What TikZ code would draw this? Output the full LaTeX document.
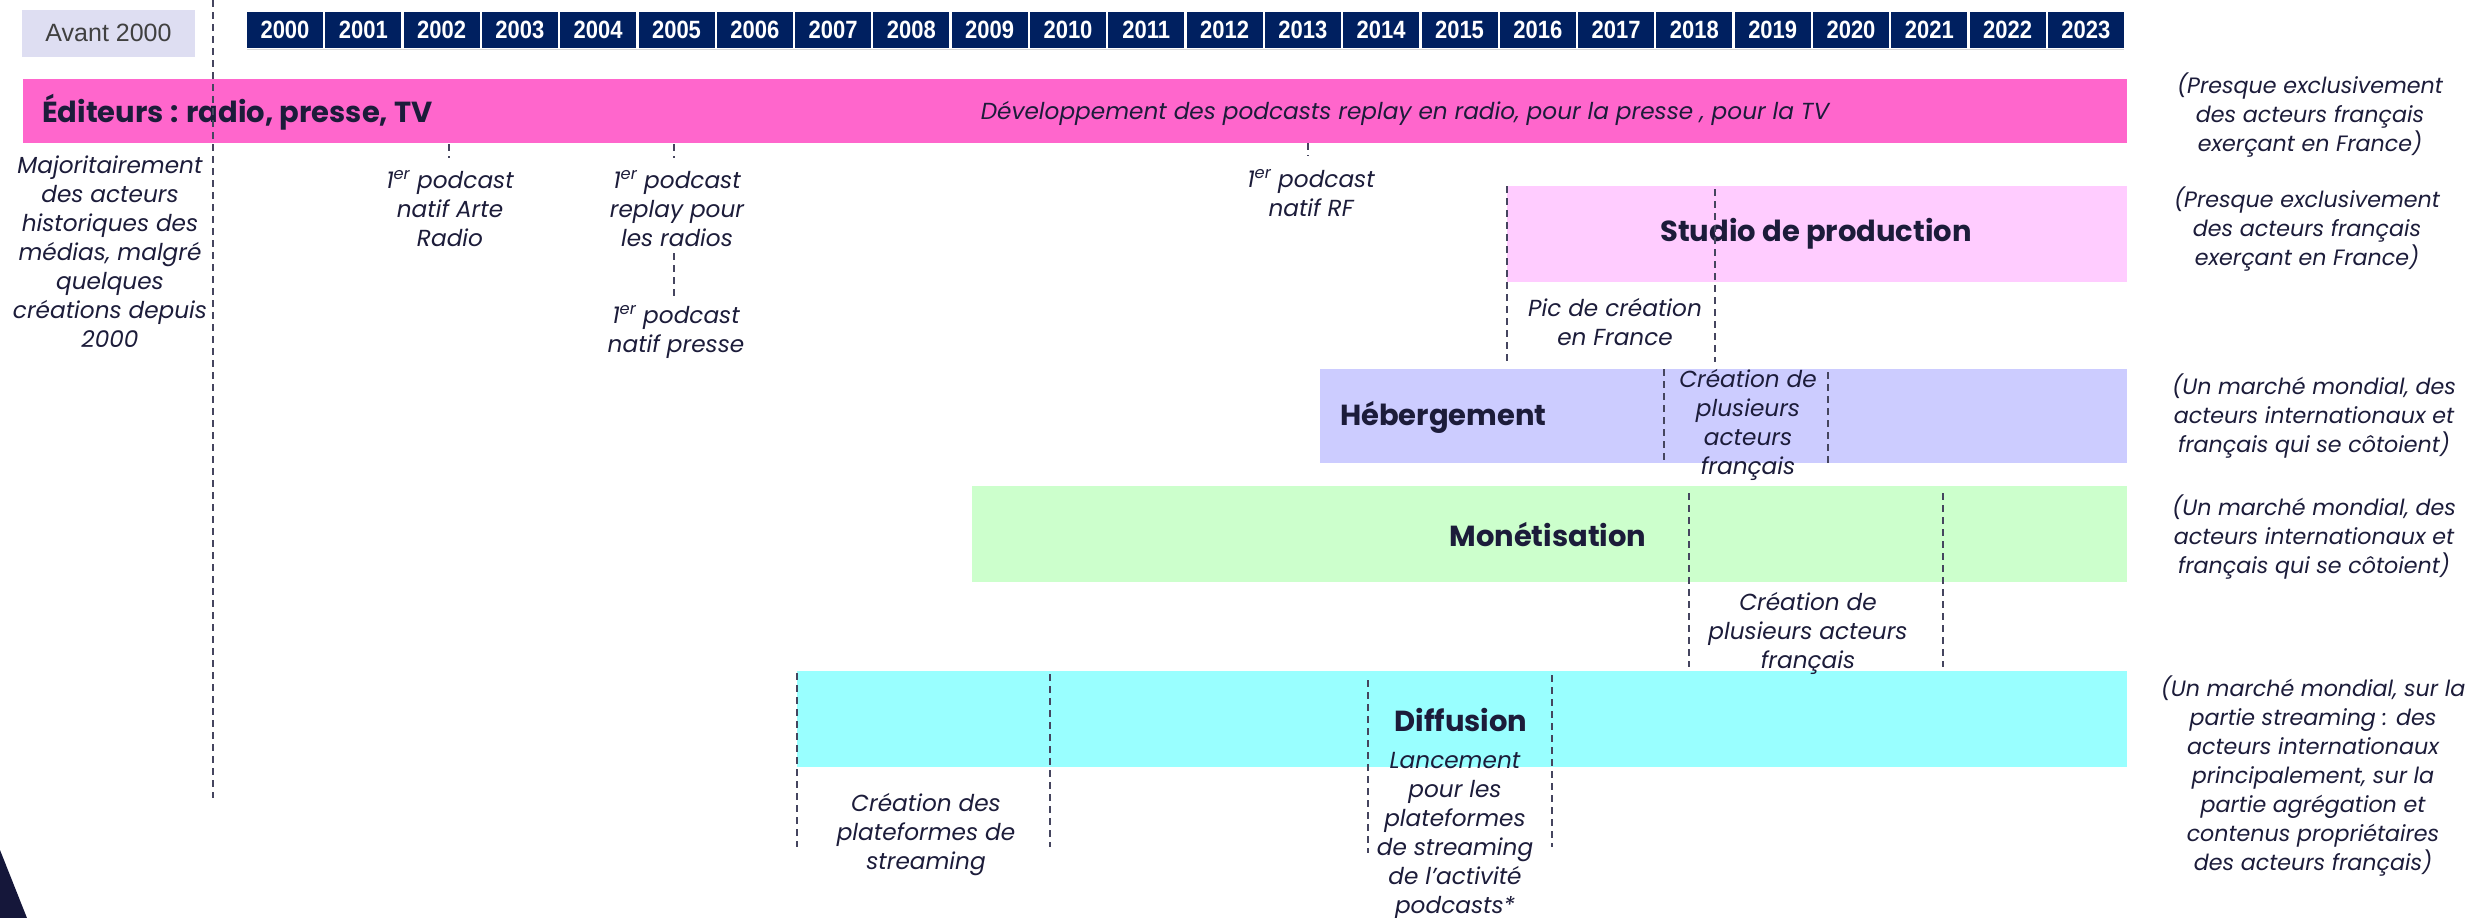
\documentclass[tikz,border=0pt]{standalone}
\usepackage{fontspec}
\usepackage{graphicx}
\setmainfont{Poppins}
\newfontfamily\yearfont{Liberation Sans}
\definecolor{navy}{HTML}{002060}
\definecolor{navyd}{HTML}{15173A}
\definecolor{txt}{HTML}{1C1C3A}
\definecolor{dashc}{HTML}{45455F}
\definecolor{pinkA}{HTML}{FF66CC}
\definecolor{pinkB}{HTML}{FFCCFF}
\definecolor{lav}{HTML}{CCCCFF}
\definecolor{greenA}{HTML}{CCFFCC}
\definecolor{cyanA}{HTML}{99FFFF}
\definecolor{avantc}{HTML}{DEDEF2}
\tikzset{
  bar/.style={inner sep=0pt, draw=none},
  lbl/.style={font=\fontsize{23.2}{29}\selectfont\itshape, align=center, text=txt, inner sep=0pt},
  note/.style={font=\fontsize{22.2}{29}\selectfont\itshape, align=center, text=txt, inner sep=0pt},
  ttl/.style={font=\fontsize{29}{32}\selectfont\bfseries, text=txt, inner sep=0pt},
  yr/.style={fill=navy, text=white, minimum width=76pt, minimum height=36pt, inner sep=0pt,
             font=\yearfont\fontsize{25}{28}\selectfont\bfseries},
  dl/.style={draw=dashc, line width=1.3pt, dash pattern=on 7pt off 5pt}
}
\begin{document}
\begin{tikzpicture}[x=1pt,y=-1pt]
\useasboundingbox (0,0) rectangle (2471,918);
\fill[white] (0,0) rectangle (2471,918);

% Avant 2000
\node[fill=avantc, minimum width=173pt, minimum height=47pt, inner sep=0pt,
      text=black!75, font=\yearfont\fontsize{25}{28}\selectfont] (avant) at (108.5,33) {Avant 2000};

% years
\foreach \i in {0,...,23}{
  \pgfmathtruncatemacro\yrv{2000+\i}
  \node[yr] (y\i) at ({247+78.3*\i+38},30) {\scalebox{0.88}[1]{\yrv}};
}
\draw[gray!30, line width=1.2pt] ([yshift=-1.5pt]y0.south west) -- ([yshift=-1.5pt]y23.south east);

% bars
\node[bar, fill=pinkA, minimum width=2104pt, minimum height=64pt] (edit) at (1075,111) {};
\node[bar, fill=pinkB, minimum width=620pt, minimum height=96pt] (studio) at (1817,234) {};
\node[bar, fill=lav, minimum width=807pt, minimum height=94pt] (heb) at (1723.5,416) {};
\node[bar, fill=greenA, minimum width=1155pt, minimum height=96pt] (mon) at (1549.5,534) {};
\node[bar, fill=cyanA, minimum width=1330pt, minimum height=96pt] (dif) at (1462,719) {};

% titles
\node[ttl, anchor=west] (tedit) at (42,112) {Éditeurs : radio, presse, TV};
\node[lbl] (dev) at (1405,113) {Développement des podcasts replay en radio, pour la presse , pour la TV};
\node[ttl] (tstudio) at (1816,234) {Studio de production};
\node[ttl, anchor=west] (theb) at (1340,417) {Hébergement};
\node[ttl] (tmon) at (1548,535) {Monétisation};
\node[ttl] (tdif) at (1461,720) {Diffusion};

% left column
\node[lbl] (maj) at (110,252) {Majoritairement\\des acteurs\\historiques des\\médias, malgré\\quelques\\créations depuis\\2000};
\coordinate (d1t) at (213,0);
\coordinate (d1b) at (213,798);
\draw[dl] (d1t) -- (d1b);

% editors milestones
\coordinate (t1a) at (449,144); \coordinate (t1b) at (449,158);
\draw[dl] (t1a) -- (t1b);
\node[lbl] (arte) at (450,209) {1\textsuperscript{er} podcast\\natif Arte\\Radio};
\coordinate (t2a) at (674,144); \coordinate (t2b) at (674,158);
\draw[dl] (t2a) -- (t2b);
\node[lbl] (replay) at (677,209) {1\textsuperscript{er} podcast\\replay pour\\les radios};
\coordinate (t3a) at (674,253); \coordinate (t3b) at (674,297);
\draw[dl] (t3a) -- (t3b);
\node[lbl] (presse) at (676,332) {1\textsuperscript{er} podcast\\natif presse};
\coordinate (t4a) at (1308,143); \coordinate (t4b) at (1308,156);
\draw[dl] (t4a) -- (t4b);
\node[lbl] (rf) at (1311,193) {1\textsuperscript{er} podcast\\natif RF};

% studio
\coordinate (s1a) at (1507,186); \coordinate (s1b) at (1507,362);
\coordinate (s2a) at (1715,189); \coordinate (s2b) at (1715,362);
\draw[dl] (s1a) -- (s1b);
\draw[dl] (s2a) -- (s2b);
\node[lbl] (pic) at (1615,322) {Pic de création\\en France};

% hebergement
\coordinate (h1a) at (1664,369); \coordinate (h1b) at (1664,463);
\coordinate (h2a) at (1828,372); \coordinate (h2b) at (1828,463);
\draw[dl] (h1a) -- (h1b);
\draw[dl] (h2a) -- (h2b);
\node[lbl] (hcre) at (1748,425) {Création de\\plusieurs\\acteurs\\français};

% monetisation
\coordinate (m1a) at (1689,493); \coordinate (m1b) at (1689,667);
\coordinate (m2a) at (1943,493); \coordinate (m2b) at (1943,667);
\draw[dl] (m1a) -- (m1b);
\draw[dl] (m2a) -- (m2b);
\node[lbl] (mcre) at (1808,633) {Création de\\plusieurs acteurs\\français};

% diffusion
\coordinate (f1a) at (797,673); \coordinate (f1b) at (797,847);
\coordinate (f2a) at (1050,674); \coordinate (f2b) at (1050,847);
\draw[dl] (f1a) -- (f1b);
\draw[dl] (f2a) -- (f2b);
\node[lbl] (fcre) at (926,835) {Création des\\plateformes de\\streaming};
\coordinate (f3a) at (1368,680); \coordinate (f3b) at (1368,853);
\coordinate (f4a) at (1552,675); \coordinate (f4b) at (1552,847);
\draw[dl] (f3a) -- (f3b);
\draw[dl] (f4a) -- (f4b);
\node[lbl] (lanc) at (1455,836) {Lancement\\pour les\\plateformes\\de streaming\\de l'activité\\podcasts*};

% right notes
\node[note] (n1) at (2310,115) {(Presque exclusivement\\des acteurs français\\exerçant en France)};
\node[note] (n2) at (2307,229) {(Presque exclusivement\\des acteurs français\\exerçant en France)};
\node[note] (n3) at (2314,416) {(Un marché mondial, des\\acteurs internationaux et\\français qui se côtoient)};
\node[note] (n4) at (2314,537) {(Un marché mondial, des\\acteurs internationaux et\\français qui se côtoient)};
\node[note] (n5) at (2313,776) {(Un marché mondial, sur la\\partie streaming : des\\acteurs internationaux\\principalement, sur la\\partie agrégation et\\contenus propriétaires\\des acteurs français)};

% corner shape
\fill[navyd] (0,850) -- (27,918) -- (0,918) -- cycle;
\end{tikzpicture}
\end{document}
